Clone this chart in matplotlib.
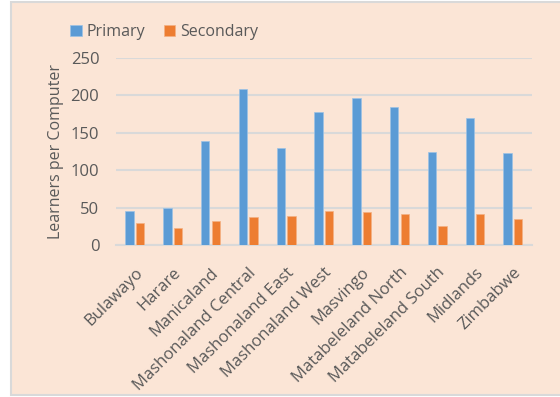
import matplotlib.pyplot as plt
import numpy as np
from matplotlib.patches import Rectangle
from matplotlib.transforms import ScaledTranslation

regions = ["Bulawayo", "Harare", "Manicaland", "Mashonaland Central",
           "Mashonaland East", "Mashonaland West", "Masvingo",
           "Matabeleland North", "Matabeleland South", "Midlands", "Zimbabwe"]
primary = [46, 50, 139, 208, 130, 178, 196, 184, 125, 170, 123]
secondary = [30, 23, 32, 38, 39, 46, 44, 42, 26, 42, 35]

plt.rcParams['font.family'] = ['Open Sans', 'DejaVu Sans']
txt = '#595959'
bg = '#FBE5D6'

fig = plt.figure(figsize=(5.6, 3.97), dpi=100, facecolor='white')
# chart area with a light border, kept behind the axes
fig.patches.append(Rectangle((11 / 560, 2 / 397), 1.0, 393 / 397, transform=fig.transFigure,
                             facecolor=bg, edgecolor='#D9D9D9', linewidth=1.5, zorder=-10))

ax = fig.add_axes([116 / 560, 1 - 245.3 / 397, (531.7 - 116) / 560, (245.3 - 58) / 397])
ax.patch.set_alpha(0)

x = np.arange(len(regions))
w = 0.22
ax.bar(x - 0.14, primary, w, color='#5B9BD5', edgecolor='#9DC3E6', linewidth=0.5,
       label='Primary', zorder=3)
ax.bar(x + 0.14, secondary, w, color='#ED7D31', edgecolor='#F4B183', linewidth=0.5,
       label='Secondary', zorder=3)

ax.set_ylim(0, 250)
ax.set_xlim(-0.5, len(regions) - 0.5)
ax.set_yticks(range(0, 251, 50))
ax.yaxis.grid(True, color='#D9D9D9', linewidth=1.5, zorder=0)
ax.set_axisbelow(True)
for s in ['top', 'right', 'left']:
    ax.spines[s].set_visible(False)
ax.spines['bottom'].set_color('#D9D9D9')
ax.spines['bottom'].set_linewidth(1.5)
ax.tick_params(length=0, colors=txt, labelsize=12, pad=12)
ax.tick_params(axis='x', pad=14, labelsize=12)
ax.set_xticks(x)
ax.set_xticklabels(regions, rotation=45, ha='right', rotation_mode='anchor')
shift = ScaledTranslation(0, 0, fig.dpi_scale_trans)
for lab in ax.get_xticklabels():
    lab.set_transform(lab.get_transform() + shift)
ax.set_ylabel('Learners per Computer', color=txt, fontsize=11.5, labelpad=5)

ax.legend(loc='lower left', bbox_to_anchor=(-0.125, 1.06), ncol=2, frameon=False,
          fontsize=11.5, labelcolor=txt, handlelength=0.7, handleheight=0.7,
          handletextpad=0.3, columnspacing=1.2, borderaxespad=0)

fig.savefig('out.png', dpi=100, facecolor='white')
